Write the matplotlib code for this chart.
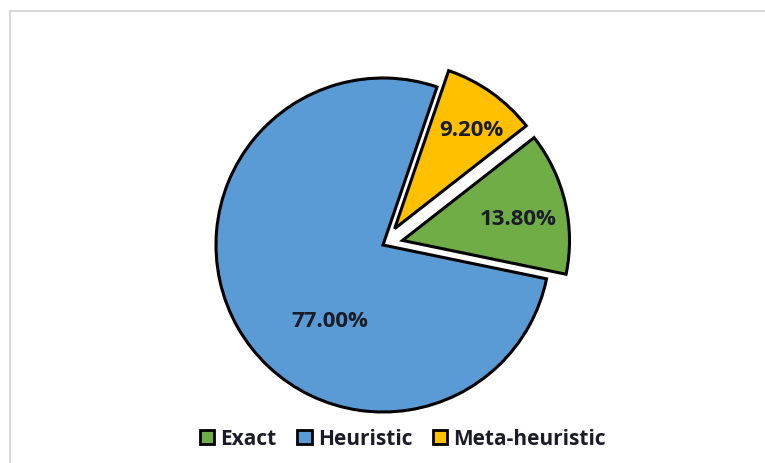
import numpy as np
import matplotlib.pyplot as plt
from matplotlib.lines import Line2D
from matplotlib.patches import Patch

# data
categories = ['Exact', 'Heuristic', 'Meta-heuristic']
shares = [13.8, 77.0, 9.2]
pct_labels = ['13.80%', '77.00%', '9.20%']
colors = ['#70AD47', '#5B9BD5', '#FFC000']
explode = [0.12, 0.0, 0.12]

plt.rcParams['font.family'] = ['Open Sans', 'DejaVu Sans']

fig = plt.figure(figsize=(7.65, 4.64), dpi=100)

# light frame like the chart area border
fig.add_artist(Line2D([9.5/765, 9.5/765], [0, 1 - 11.5/464], color='#d9d9d9', lw=1.5))
fig.add_artist(Line2D([9.5/765, 1], [1 - 11.5/464, 1 - 11.5/464], color='#d9d9d9', lw=1.5))

# axes sized so radius 1 = ~167 px, centred at (383, 246)
R = 167
cx, cy = 383, 246
half = 1.25 * R
ax = fig.add_axes([(cx - half) / 765, (464 - cy - half) / 464, 2 * half / 765, 2 * half / 464])

wedges, texts = ax.pie(shares, colors=colors, explode=explode, startangle=38,
                       counterclock=False, radius=1.0,
                       wedgeprops=dict(edgecolor='black', linewidth=2.2))
ax.set_aspect('equal')
ax.set_xlim(-1.25, 1.25)
ax.set_ylim(-1.25, 1.25)
ax.axis('off')

# percentage labels
label_pos = [(0.81, 0.16), (-0.32, -0.455), (0.53, 0.69)]
for (x, y), t in zip(label_pos, pct_labels):
    ax.text(x, y, t, ha='center', va='center', fontsize=16, fontweight='bold',
            color='#1c1c28')

# legend
handles = [Patch(facecolor=c, edgecolor='black', linewidth=2) for c in colors]
fig.legend(handles, categories, loc='center', bbox_to_anchor=(403/765, 1 - 440/464),
           ncol=3, frameon=False, prop=dict(weight='bold', size=15),
           handlelength=0.68, handleheight=0.68, handletextpad=0.3, columnspacing=1.0,
           labelcolor='#1c1c28')

fig.savefig('out.png', dpi=100)
